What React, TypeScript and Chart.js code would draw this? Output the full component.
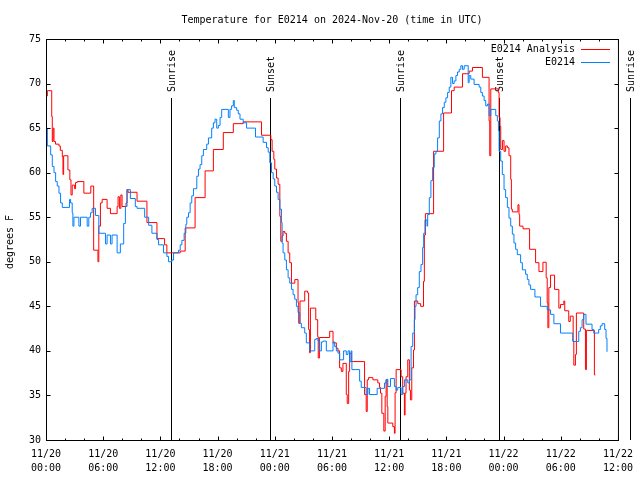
import React, { useEffect, useRef } from 'react';
import { Chart, registerables } from 'chart.js';

Chart.register(...registerables);

const TITLE = 'Temperature for E0214 on 2024-Nov-20 (time in UTC)';
const Y_LABEL = 'degrees F';
const SERIES_NAMES = ['E0214 Analysis', 'E0214'];
const SERIES_COLORS = ['#ff0000', '#0080ff'];

const xTickDates = ['11/20', '11/20', '11/20', '11/20', '11/21', '11/21', '11/21', '11/21', '11/22', '11/22', '11/22'];
const xTickTimes = ['00:00', '06:00', '12:00', '18:00', '00:00', '06:00', '12:00', '18:00', '00:00', '06:00', '12:00'];
const yTicks = [30, 35, 40, 45, 50, 55, 60, 65, 70, 75];

const sunEvents = ['Sunrise', 'Sunset', 'Sunrise', 'Sunset', 'Sunrise'];
const sunHours = [13.1, 23.49, 37.18, 47.53, 61.29];

// hours since 11/20 00:00 UTC
const analysisHours = [
  0, 0.14, 0.6, 0.66, 0.75, 0.84, 1.0, 1.36, 1.5, 1.71, 1.78, 1.85, 2.3, 2.5, 2.62, 2.75, 3.0, 3.1, 3.28, 3.97,
  4.7, 5.0, 5.45, 5.54, 5.71, 5.89, 6.41, 6.76, 7.46, 7.56, 7.7, 7.85, 7.98, 8.4, 8.5, 8.6, 9.55, 10.59, 11.64, 12.44,
  12.68, 14.08, 14.6, 15.64, 16.69, 17.56, 18.6, 19.65, 20.69, 22.61, 23.59, 23.72, 23.9, 24.0, 24.18, 24.35, 24.53, 24.63, 24.77, 24.87,
  25.05, 25.22, 25.4, 25.57, 25.75, 26.1, 26.44, 26.51, 26.65, 27.14, 27.45, 27.55, 27.65, 27.74, 28.3, 28.5, 28.56, 28.68, 29.76, 30.11,
  30.46, 30.63, 30.8, 30.98, 31.15, 31.5, 31.6, 31.75, 31.85, 32.02, 33.42, 33.59, 33.7, 33.84, 34.29, 34.81, 34.99, 35.09, 35.23, 35.44,
  35.58, 35.68, 35.79, 35.86, 36.38, 36.55, 36.62, 36.73, 37.25, 37.42, 37.6, 37.67, 37.77, 37.95, 38.12, 38.23, 38.37, 38.55, 38.65, 39.0,
  39.3, 39.6, 39.69, 39.8, 40.66, 41.71, 42.54, 42.82, 43.69, 44.39, 44.74, 45.78, 46.48, 46.55, 46.66, 47.45, 47.53, 47.63, 47.7, 47.88,
  48.05, 48.22, 48.4, 48.57, 48.75, 48.82, 48.92, 49.51, 49.62, 49.69, 50.04, 50.73, 51.36, 51.71, 52.13, 52.47, 52.58, 52.65, 52.75, 52.93,
  53.35, 53.8, 53.97, 54.32, 54.42, 54.84, 55.0, 55.3, 55.37, 55.54, 55.64, 56.41, 56.59, 56.69, 57.53, 57.63,
];
const analysisTemps = [
  68.6, 69.2, 66.3, 63.5, 65.0, 63.5, 63.2, 63.0, 62.5, 61.8, 59.8, 61.9, 60.3, 59.2, 57.5, 58.6, 58.2, 58.9, 59.0, 57.7,
  58.5, 51.3, 50.0, 54.0, 56.6, 57.0, 56.0, 55.4, 56.2, 57.3, 56.0, 57.5, 56.2, 56.6, 58.1, 57.8, 56.8, 54.4, 52.6, 51.9,
  51.0, 51.2, 53.8, 57.2, 60.2, 62.6, 64.5, 65.5, 65.7, 64.2, 63.7, 62.4, 61.5, 60.4, 59.4, 58.7, 55.1, 52.3, 52.9, 53.4,
  53.2, 52.3, 51.0, 49.9, 47.6, 48.0, 45.4, 43.1, 45.6, 46.7, 46.5, 42.4, 39.8, 44.8, 43.5, 41.6, 39.2, 41.5, 42.2, 40.9,
  40.3, 40.0, 38.1, 37.7, 38.6, 35.1, 34.1, 37.7, 39.75, 38.8, 35.1, 33.2, 36.75, 37.0, 36.75, 36.4, 35.9, 35.25, 33.0, 31.0,
  34.9, 36.75, 33.75, 31.9, 31.5, 30.75, 35.3, 37.9, 37.1, 35.25, 32.8, 35.25, 37.1, 39.0, 35.6, 34.5, 38.1, 40.1, 45.6, 45.3,
  45.0, 47.8, 53.0, 55.4, 62.4, 66.7, 69.2, 69.6, 71.1, 71.4, 71.8, 70.7, 65.8, 61.9, 69.4, 69.0, 66.2, 65.2, 62.6, 63.6,
  62.4, 63.0, 62.8, 61.9, 59.25, 55.9, 55.6, 56.4, 55.3, 54.0, 53.7, 51.4, 49.9, 48.9, 49.95, 48.2, 45.4, 42.6, 47.1, 48.5,
  46.9, 44.8, 45.2, 45.6, 44.5, 43.3, 43.9, 41.1, 38.4, 39.6, 44.25, 42.45, 37.9, 42.3, 37.3, 37.3,
];

const obsHours = [
  0, 0.14, 0.49, 0.66, 0.84, 1.01, 1.18, 1.36, 1.53, 1.71, 2.47, 2.58, 2.75, 2.82, 2.93, 3.45, 3.62, 4.32, 4.49, 4.67,
  4.84, 5.19, 5.54, 6.24, 6.41, 6.76, 6.93, 7.46, 7.8, 8.15, 8.33, 8.5, 8.85, 9.37, 9.55, 10.35, 10.77, 11.11, 11.64, 11.81,
  12.33, 12.68, 12.86, 13.2, 13.38, 13.9, 14.08, 14.25, 14.49, 14.67, 14.77, 14.95, 15.12, 15.29, 15.47, 15.82, 15.99, 16.16, 16.34, 16.51,
  16.86, 17.04, 17.38, 17.56, 17.73, 17.91, 18.08, 18.26, 18.43, 19.13, 19.3, 19.47, 19.65, 19.75, 20.0, 20.17, 20.35, 20.69, 21.04, 21.98,
  22.78, 23.13, 23.31, 23.48, 23.66, 23.83, 24.0, 24.18, 24.35, 24.53, 24.7, 24.77, 24.87, 25.05, 25.22, 25.4, 25.57, 25.75, 25.92, 26.09,
  26.27, 26.44, 26.62, 26.79, 27.14, 27.31, 27.66, 28.19, 28.37, 28.54, 28.71, 28.89, 29.06, 29.41, 30.11, 30.28, 30.46, 30.63, 30.8, 31.22,
  31.5, 31.68, 31.85, 32.02, 32.09, 32.9, 33.07, 33.59, 33.77, 33.94, 34.74, 35.51, 35.68, 35.86, 36.14, 36.55, 36.73, 36.9, 37.25, 37.42,
  37.6, 37.95, 38.12, 38.3, 38.47, 38.64, 38.71, 38.82, 38.99, 39.16, 39.34, 39.51, 39.62, 39.76, 39.97, 40.04, 40.21, 40.38, 40.56, 40.73,
  40.91, 41.08, 41.26, 41.43, 41.6, 41.78, 41.95, 42.13, 42.3, 42.47, 42.65, 42.82, 43.0, 43.17, 43.35, 43.52, 43.69, 43.87, 44.29, 44.39,
  44.56, 44.91, 45.44, 45.61, 45.78, 45.96, 46.13, 46.31, 46.48, 46.66, 47.18, 47.35, 47.46, 47.53, 47.7, 47.87, 48.05, 48.22, 48.4, 48.57,
  48.75, 48.92, 49.09, 49.27, 49.44, 49.79, 49.97, 50.31, 50.49, 50.66, 50.84, 51.29, 51.88, 52.58, 52.93, 53.28, 53.97, 55.26, 55.89, 56.06,
  56.24, 56.41, 56.65, 57.28, 57.46, 57.98, 58.15, 58.33, 58.61, 58.75, 58.85,
];
const obsTemps = [
  65.0, 63.0, 62.0, 60.7, 60.0, 59.0, 58.5, 57.7, 56.6, 56.1, 57.0, 56.6, 55.5, 54.0, 55.0, 54.0, 55.0, 54.0, 55.0, 55.5,
  56.0, 55.2, 53.2, 52.0, 53.0, 52.0, 53.0, 51.0, 52.0, 54.3, 56.2, 58.1, 57.1, 56.2, 56.0, 55.0, 54.1, 53.2, 52.5, 51.9,
  51.0, 50.6, 50.0, 50.2, 51.0, 51.3, 51.9, 52.4, 53.2, 54.2, 55.0, 55.5, 56.6, 57.4, 58.2, 59.6, 60.4, 60.9, 61.9, 62.6,
  63.2, 63.9, 65.0, 65.6, 66.0, 65.0, 65.3, 66.2, 67.1, 66.2, 67.1, 67.5, 68.1, 67.3, 67.0, 66.6, 66.0, 65.6, 65.0, 64.0,
  63.4, 62.8, 62.3, 61.1, 60.0, 59.3, 58.5, 57.8, 57.0, 55.9, 54.4, 52.1, 51.0, 50.2, 49.1, 48.2, 47.6, 46.9, 46.3, 45.8,
  45.0, 44.3, 43.1, 42.6, 42.0, 40.9, 40.0, 41.3, 41.4, 41.1, 40.0, 41.0, 41.1, 40.0, 41.0, 40.5, 40.0, 39.75, 39.0, 40.0,
  39.6, 40.0, 38.8, 40.0, 37.9, 36.6, 35.9, 35.1, 35.8, 35.1, 35.8, 36.4, 36.8, 36.0, 36.9, 36.0, 35.6, 35.9, 35.1, 36.0,
  36.75, 36.4, 36.75, 40.5, 42.0, 43.5, 45.0, 46.3, 47.1, 48.9, 49.7, 51.6, 53.2, 54.7, 54.0, 55.3, 57.2, 59.1, 60.6, 62.1,
  62.4, 63.9, 65.8, 66.6, 67.3, 67.9, 68.4, 69.0, 69.6, 70.7, 70.0, 70.3, 70.9, 71.3, 71.6, 72.0, 71.6, 72.0, 70.1, 70.9,
  70.5, 69.9, 69.6, 69.0, 68.6, 68.1, 67.5, 67.7, 66.4, 67.1, 66.4, 65.8, 64.7, 62.4, 61.3, 59.8, 58.1, 57.2, 56.1, 54.9,
  54.0, 53.1, 52.1, 51.4, 50.8, 49.9, 49.1, 48.6, 48.0, 47.4, 46.9, 46.05, 45.0, 44.6, 44.1, 43.05, 42.0, 41.06, 42.2, 42.6,
  43.5, 44.1, 43.0, 42.4, 42.0, 42.4, 42.8, 43.05, 42.4, 41.4, 39.9,
];

const FONT_FAMILY = '"DejaVu Sans Mono", "Liberation Mono", monospace';
const FONT = `10px ${FONT_FAMILY}`;

const decorPlugin = {
  id: 'gnuplotDecor',
  beforeDatasetsDraw(chart: any) {
    const { ctx, chartArea: a, scales } = chart;
    const x = scales.x;
    ctx.save();
    ctx.strokeStyle = '#000';
    ctx.fillStyle = '#000';
    ctx.lineWidth = 1;
    ctx.font = FONT;
    sunHours.forEach((h, i) => {
      const px = Math.round(x.getPixelForValue(h)) + 0.5;
      ctx.beginPath();
      ctx.moveTo(px, a.top + 59);
      ctx.lineTo(px, a.bottom);
      ctx.stroke();
      ctx.save();
      ctx.translate(px + 1, a.top + 53);
      ctx.rotate(-Math.PI / 2);
      ctx.textAlign = 'left';
      ctx.textBaseline = 'middle';
      ctx.fillText(sunEvents[i], 0, 0);
      ctx.restore();
    });
    ctx.restore();
  },
  afterDraw(chart: any) {
    const { ctx, chartArea: a, scales } = chart;
    const x = scales.x;
    const y = scales.y;
    ctx.save();
    ctx.strokeStyle = '#000';
    ctx.lineWidth = 1;
    const L = a.left + 0.5;
    const R = a.right + 0.5;
    const T = a.top + 0.5;
    const B = a.bottom + 0.5;
    // ticks
    ctx.beginPath();
    for (let h = 0; h <= 60; h += 2) {
      const px = Math.round(x.getPixelForValue(h)) + 0.5;
      const len = h % 6 === 0 ? 4 : 2;
      ctx.moveTo(px, B);
      ctx.lineTo(px, B - len);
      ctx.moveTo(px, T);
      ctx.lineTo(px, T + len);
    }
    yTicks.forEach((v) => {
      const py = Math.round(y.getPixelForValue(v)) + 0.5;
      ctx.moveTo(L, py);
      ctx.lineTo(L + 4, py);
      ctx.moveTo(R, py);
      ctx.lineTo(R - 4, py);
    });
    ctx.stroke();
    // border
    ctx.strokeRect(L, T, R - L, B - T);

    ctx.fillStyle = '#000';
    ctx.font = FONT;
    // title
    ctx.textAlign = 'center';
    ctx.textBaseline = 'middle';
    ctx.fillText(TITLE, (a.left + a.right) / 2, 20);
    // y label
    ctx.save();
    ctx.translate(10, 242);
    ctx.rotate(-Math.PI / 2);
    ctx.fillText(Y_LABEL, 0, 0);
    ctx.restore();
    // legend
    ctx.textAlign = 'right';
    SERIES_NAMES.forEach((name, i) => {
      const ly = 49 + i * 13;
      ctx.fillStyle = '#000';
      ctx.fillText(name, 575, ly);
      ctx.strokeStyle = SERIES_COLORS[i];
      ctx.beginPath();
      ctx.moveTo(581, ly + 0.5);
      ctx.lineTo(610, ly + 0.5);
      ctx.stroke();
    });
    ctx.restore();
  },
};

export default function App() {
  const canvasRef = useRef<HTMLCanvasElement | null>(null);

  useEffect(() => {
    if (!canvasRef.current) return;
    const analysisData = analysisHours.map((h, i) => ({ x: h, y: analysisTemps[i] }));
    const obsData = obsHours.map((h, i) => ({ x: h, y: obsTemps[i] }));
    const chart = new Chart(canvasRef.current, {
      type: 'line',
      data: {
        datasets: [
          {
            label: SERIES_NAMES[0],
            data: analysisData,
            borderColor: SERIES_COLORS[0],
            borderWidth: 1,
            pointRadius: 0,
            stepped: 'before',
            fill: false,
            order: 2,
          },
          {
            label: SERIES_NAMES[1],
            data: obsData,
            borderColor: SERIES_COLORS[1],
            borderWidth: 1,
            pointRadius: 0,
            stepped: 'before',
            fill: false,
            order: 1,
          },
        ],
      },
      options: {
        animation: false,
        responsive: false,
        maintainAspectRatio: false,
        layout: { padding: { top: 39, right: 19, left: 0, bottom: 0 } },
        plugins: {
          legend: { display: false },
          title: { display: false },
          tooltip: { enabled: false },
        },
        scales: {
          x: {
            type: 'linear',
            min: 0,
            max: 60,
            grid: { display: false, drawTicks: false },
            border: { display: false },
            afterFit: (s: any) => {
              s.height = 40;
            },
            ticks: {
              stepSize: 6,
              autoSkip: false,
              maxRotation: 0,
              padding: 7,
              color: '#000',
              font: { family: FONT_FAMILY, size: 10, lineHeight: 1.4 },
              callback: (v: any) => {
                const i = Math.round(Number(v) / 6);
                return [xTickDates[i], xTickTimes[i]];
              },
            },
          },
          y: {
            type: 'linear',
            min: 30,
            max: 75,
            grid: { display: false, drawTicks: false },
            border: { display: false },
            afterFit: (s: any) => {
              s.width = 46;
            },
            ticks: {
              stepSize: 5,
              padding: 5,
              color: '#000',
              font: { family: FONT_FAMILY, size: 10 },
            },
          },
        },
      },
      plugins: [decorPlugin],
    });
    return () => chart.destroy();
  }, []);

  return (
    <div style={{ position: 'absolute', left: 0, top: 0, width: 640, height: 480, background: '#fff' }}>
      <canvas ref={canvasRef} width={640} height={480} style={{ display: 'block' }} />
    </div>
  );
}
